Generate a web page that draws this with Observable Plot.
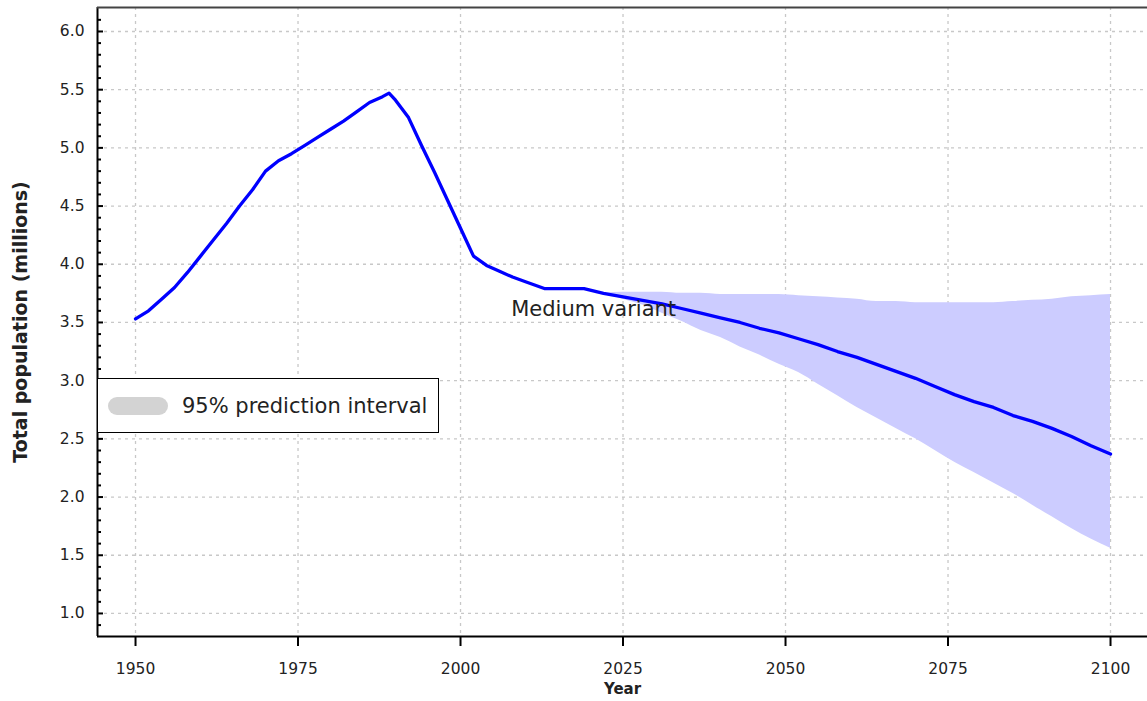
<!DOCTYPE html>
<html><head><meta charset="utf-8">
<script src="https://cdn.jsdelivr.net/npm/d3@7"></script>
<script src="https://cdn.jsdelivr.net/npm/@observablehq/plot@0.6"></script>
<style>
body{margin:0;background:#fff;}
#wrap{position:relative;width:1147px;height:701px;overflow:hidden;}
#legend{position:absolute;left:97px;top:378px;width:342px;height:55px;box-sizing:border-box;border:1.5px solid #000;background:#fff;font-family:"DejaVu Sans",sans-serif;}
#legend .sw{position:absolute;left:10px;top:18px;width:60px;height:18px;border-radius:9px;background:#d3d3d3;}
#legend .tx{position:absolute;left:84px;top:14px;font-size:21px;line-height:26px;color:#222;white-space:nowrap;}
</style>
</head><body>
<div id="wrap"></div>
<script>
// Medium variant (millions)
const years = [1950,1952,1954,1956,1958,1960,1962,1964,1966,1968,1970,1972,1974,1976,1978,1980,1982,1984,1986,1988,1989,1990,1992,1994,1996,1998,2000,2002,2004,2006,2008,2010,2013,2019,2022,2025,2028,2031,2034,2037,2040,2043,2046,2049,2052,2055,2058,2061,2064,2067,2070,2073,2076,2079,2082,2085,2088,2091,2094,2097,2100];
const medium = [3.53,3.60,3.70,3.80,3.93,4.07,4.21,4.35,4.50,4.64,4.80,4.89,4.95,5.02,5.09,5.16,5.23,5.31,5.39,5.44,5.47,5.41,5.26,5.02,4.79,4.55,4.31,4.07,3.99,3.94,3.89,3.85,3.79,3.79,3.75,3.72,3.69,3.66,3.62,3.58,3.54,3.50,3.45,3.41,3.36,3.31,3.25,3.20,3.14,3.08,3.02,2.95,2.88,2.82,2.77,2.70,2.65,2.59,2.52,2.44,2.37];
// 95% prediction interval
const bandYears = [2022,2025,2028,2031,2034,2037,2040,2043,2046,2049,2052,2055,2058,2061,2064,2067,2070,2073,2076,2079,2082,2085,2088,2091,2094,2097,2100];
const lower = [3.75,3.70,3.65,3.58,3.51,3.43,3.37,3.29,3.22,3.14,3.07,2.97,2.87,2.77,2.68,2.59,2.50,2.40,2.30,2.21,2.12,2.03,1.93,1.83,1.73,1.64,1.56];
const upper = [3.75,3.76,3.76,3.76,3.75,3.75,3.74,3.74,3.74,3.74,3.73,3.72,3.71,3.70,3.68,3.68,3.67,3.67,3.67,3.67,3.67,3.68,3.69,3.70,3.72,3.73,3.74];
const xTicks = [1950,1975,2000,2025,2050,2075,2100];
const yTicks = [1.0,1.5,2.0,2.5,3.0,3.5,4.0,4.5,5.0,5.5,6.0];
const yMinorTicks = [0.9,1.1,1.2,1.3,1.4,1.6,1.7,1.8,1.9,2.1,2.2,2.3,2.4,2.6,2.7,2.8,2.9,3.1,3.2,3.3,3.4,3.6,3.7,3.8,3.9,4.1,4.2,4.3,4.4,4.6,4.7,4.8,4.9,5.1,5.2,5.3,5.4,5.6,5.7,5.8,5.9,6.1];
const annotation = {label:"Medium variant", year:2007.8, value:3.61};
const xLabel = "Year";
const yLabel = "Total population (millions)";
const legendLabel = "95% prediction interval";

const lineData = years.map((y,i)=>({year:y, value:medium[i]}));
const bandData = bandYears.map((y,i)=>({year:y, lo:lower[i], hi:upper[i]}));
const xDomain = [1944.15, 2105.69];
const yDomain = [0.802, 6.206];
const grid = {stroke:"#c8c8c8", strokeOpacity:1, strokeDasharray:"3,4", strokeWidth:1.3};

const chart = Plot.plot({
  width:1147, height:701,
  marginLeft:97, marginRight:0, marginTop:7, marginBottom:65,
  style:{fontFamily:"DejaVu Sans, sans-serif", background:"#fff", color:"#222", overflow:"visible"},
  x:{domain:xDomain}, y:{domain:yDomain},
  marks:[
    Plot.gridX({ticks:xTicks, ...grid}),
    Plot.gridY({ticks:yTicks, ...grid}),
    Plot.areaY(bandData,{x:"year", y1:"lo", y2:"hi", fill:"#ccccff", fillOpacity:1, curve:"monotone-x"}),
    Plot.line(lineData,{x:"year", y:"value", stroke:"#0000ff", strokeWidth:3.3}),
    Plot.text([annotation],{x:"year", y:"value", text:"label", textAnchor:"start", fontSize:21, fill:"#222"}),
    Plot.axisX({ticks:xTicks, tickSize:10, tickPadding:16, fontSize:15.5, label:null, stroke:"#000", strokeWidth:2, tickFormat:d=>String(d)}),
    Plot.axisY({ticks:yTicks, tickSize:0, tickPadding:13, fontSize:15.5, label:null, tickFormat:d3.format(".1f")}),
    Plot.axisY({ticks:yTicks, tickSize:-6, fill:"none", label:null, stroke:"#000", strokeWidth:2}),
    Plot.axisY({ticks:yMinorTicks, tickSize:-4, fill:"none", label:null, stroke:"#000", strokeWidth:2}),
    Plot.ruleX([xDomain[0]],{stroke:"#000", strokeWidth:2}),
    Plot.ruleY([yDomain[0]],{stroke:"#000", strokeWidth:2}),
    Plot.ruleY([yDomain[1]],{stroke:"#444", strokeWidth:2}),
    Plot.text([xLabel],{frameAnchor:"bottom", dy:57, fontWeight:"bold", fontSize:15, fill:"#222"}),
    Plot.text([yLabel],{frameAnchor:"left", textAnchor:"middle", dx:-77, rotate:-90, fontWeight:"bold", fontSize:19, fill:"#222"})
  ]
});
const wrap = document.getElementById("wrap");
wrap.appendChild(chart);
const lg = document.createElement("div");
lg.id = "legend";
lg.innerHTML = '<div class="sw"></div><div class="tx"></div>';
lg.querySelector(".tx").textContent = legendLabel;
wrap.appendChild(lg);
</script>
</body></html>
